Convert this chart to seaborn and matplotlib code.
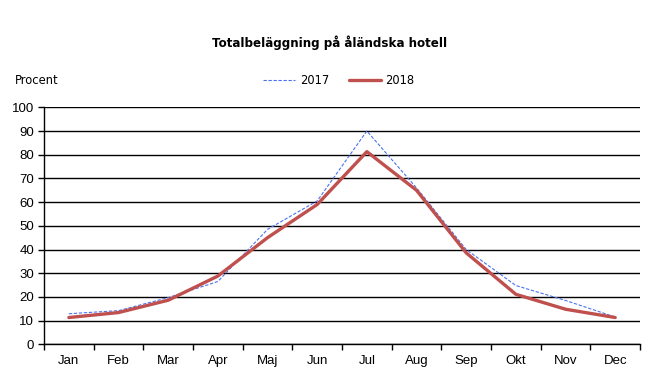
import pandas as pd
import seaborn as sns
import matplotlib.pyplot as plt
import numpy as np
from matplotlib.lines import Line2D

months = ['Jan', 'Feb', 'Mar', 'Apr', 'Maj', 'Jun', 'Jul', 'Aug', 'Sep', 'Okt', 'Nov', 'Dec']
occ_2017 = [12.9, 14.2, 19.7, 26.5, 48.5, 60.5, 90.0, 66.0, 40.0, 24.8, 18.5, 11.5]
occ_2018 = [11.3, 13.4, 18.6, 28.8, 45.0, 59.0, 81.3, 65.0, 38.6, 21.1, 14.8, 11.3]
y_ticks = list(range(0, 101, 10))

df = pd.DataFrame({
    'month': months * 2,
    'pos': list(range(12)) * 2,
    'value': occ_2017 + occ_2018,
    'year': ['2017'] * 12 + ['2018'] * 12,
})

sns.set_style('white')
plt.rcParams['font.family'] = ['Liberation Sans', 'DejaVu Sans']
plt.rcParams['text.color'] = 'black'
plt.rcParams['xtick.color'] = 'black'
plt.rcParams['ytick.color'] = 'black'

fig = plt.figure(figsize=(6.64, 3.82), dpi=100)
ax = fig.add_axes([0.0663, 0.0987, 0.8976, 0.6203])

palette = {'2017': '#4a72f0', '2018': '#c0504d'}
sns.lineplot(data=df, x='pos', y='value', hue='year', style='year',
             palette=palette, dashes={'2017': (3, 1.5), '2018': ''},
             size='year', sizes={'2017': 0.8, '2018': 2.4},
             ax=ax, legend=False)

ax.set_xlim(-0.5, 11.5)
ax.set_ylim(0, 100)
ax.set_yticks(y_ticks)
ax.yaxis.grid(True, color='black', linewidth=1)
ax.set_axisbelow(True)
ax.set_xticks(np.arange(-0.5, 12, 1))
ax.set_xticklabels([])
ax.set_xticks(range(12), minor=True)
ax.set_xticklabels(months, minor=True, fontsize=9.5)
ax.tick_params(axis='x', which='minor', bottom=False, length=0, pad=8)
ax.tick_params(axis='x', which='major', bottom=True, length=4, width=1, color='black', direction='out')
ax.tick_params(axis='y', left=True, length=4, width=1, color='black', direction='out', labelsize=9.5, pad=3)
ax.set_xlabel('')
ax.set_ylabel('')
for s in ['top', 'right']:
    ax.spines[s].set_visible(False)
for s in ['left', 'bottom']:
    ax.spines[s].set_color('black')
    ax.spines[s].set_linewidth(1)

fig.text(0.497, 0.887, 'Totalbeläggning på åländska hotell', ha='center', va='center',
         fontsize=8.6, fontweight='bold', family=['DejaVu Sans'])
fig.text(0.023, 0.79, 'Procent', ha='left', va='center', fontsize=8.3, family=['DejaVu Sans'])

handles = [Line2D([], [], color=palette['2017'], linewidth=0.8, dashes=(3, 1.5)),
           Line2D([], [], color=palette['2018'], linewidth=2.4)]
fig.legend(handles, ['2017', '2018'], loc='center', bbox_to_anchor=(0.51, 0.79), ncol=2,
           frameon=False, handlelength=2.8, columnspacing=1.7, handletextpad=0.4,
           prop={'family': 'DejaVu Sans', 'size': 8.3})

fig.savefig('out.png', dpi=100)
